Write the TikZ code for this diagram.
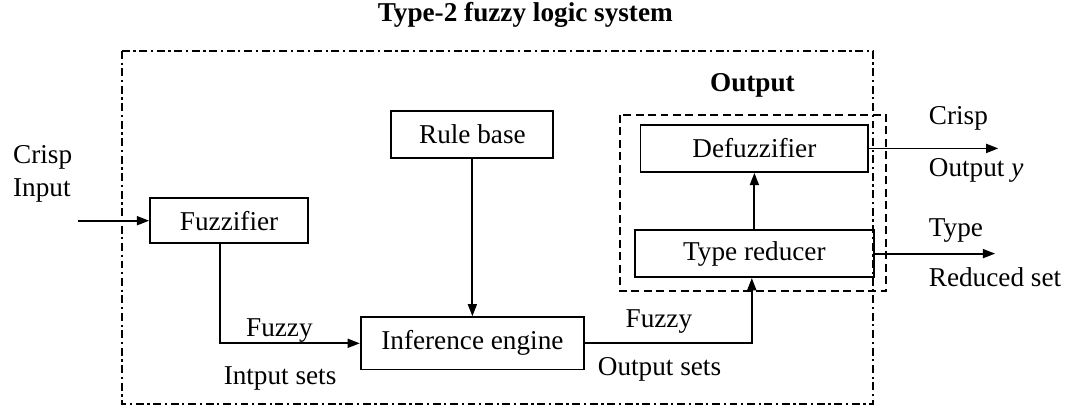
\documentclass[tikz,border=0pt]{standalone}
\usepackage{fontspec}
\setmainfont{Liberation Serif}
\usepackage{tikz}
\usetikzlibrary{arrows.meta}

\begin{document}
\begin{tikzpicture}[line width=0.8pt, >={Triangle[length=1.9mm,width=1.4mm]},
  every node/.style={font=\fontsize{12}{14.5}\selectfont},
  block/.style={draw, rectangle, inner sep=0pt},
  lbl/.style={inner sep=0pt},
  dashdot/.style={dash pattern=on 3.5pt off 1.6pt on 1pt off 1.6pt},
  dashbox/.style={dash pattern=on 3.5pt off 2pt}]
\useasboundingbox (0,0) rectangle (16.55,-6.32);

\node[lbl,font=\fontsize{12}{14.5}\selectfont\bfseries] (title) at (8.14,-0.23) {Type-2 fuzzy logic system};
\draw[dashdot] (1.89,-0.79) rectangle (13.53,-6.26);

  \node[block,minimum width=2.45cm,minimum height=0.70cm] (fuzz) at (3.55,-3.42) {Fuzzifier};
  \node[block,minimum width=2.51cm,minimum height=0.73cm] (rule) at (7.32,-2.08) {Rule base};
  \node[block,minimum width=3.46cm,minimum height=0.81cm] (infer) at (7.32,-5.32) {Inference engine};
  \node[block,minimum width=3.53cm,minimum height=0.73cm] (defuzz) at (11.69,-2.30) {Defuzzifier};
  \node[block,minimum width=3.70cm,minimum height=0.73cm] (tred) at (11.69,-3.93) {Type reducer};

% output part
\draw[dashbox] (9.61,-1.78) rectangle (13.73,-4.51);
\node[lbl,font=\fontsize{12}{14.5}\selectfont\bfseries] (out) at (11.66,-1.32) {Output};

% input side
\node[lbl,anchor=west,align=left] (crispin) at (0.19,-2.69) {Crisp\\Input};
\coordinate (in) at (1.21,-3.42);
\draw[->] (in) -- (fuzz.west);
\draw[->] ([xshift=-0.14cm]fuzz.south) |- (infer.west);
\node[lbl] (fin1) at (4.33,-5.12) {Fuzzy};
\node[lbl] (fin2) at (4.34,-5.86) {Intput sets};

\draw[->] (rule) -- (infer);
\draw[->] (infer.east) -| ([xshift=-0.04cm]tred.south);
\node[lbl] (fout1) at (10.21,-4.99) {Fuzzy};
\node[lbl] (fout2) at (10.22,-5.72) {Output sets};
\draw[->] (tred) -- (defuzz);

% output side
\coordinate (y) at (15.47,-2.30);
\coordinate (yr) at (15.42,-3.93);
\draw[->] (defuzz.east) -- (y);
\draw[->] (tred.east) -- (yr);
\node[lbl,anchor=west] (crisp) at (14.38,-1.83) {Crisp};
\node[lbl,anchor=west] (outy) at (14.38,-2.64) {Output \textit{y}};
\node[lbl,anchor=west] (type) at (14.38,-3.57) {Type};
\node[lbl,anchor=west] (redset) at (14.38,-4.29) {Reduced set};

\end{tikzpicture}
\end{document}
